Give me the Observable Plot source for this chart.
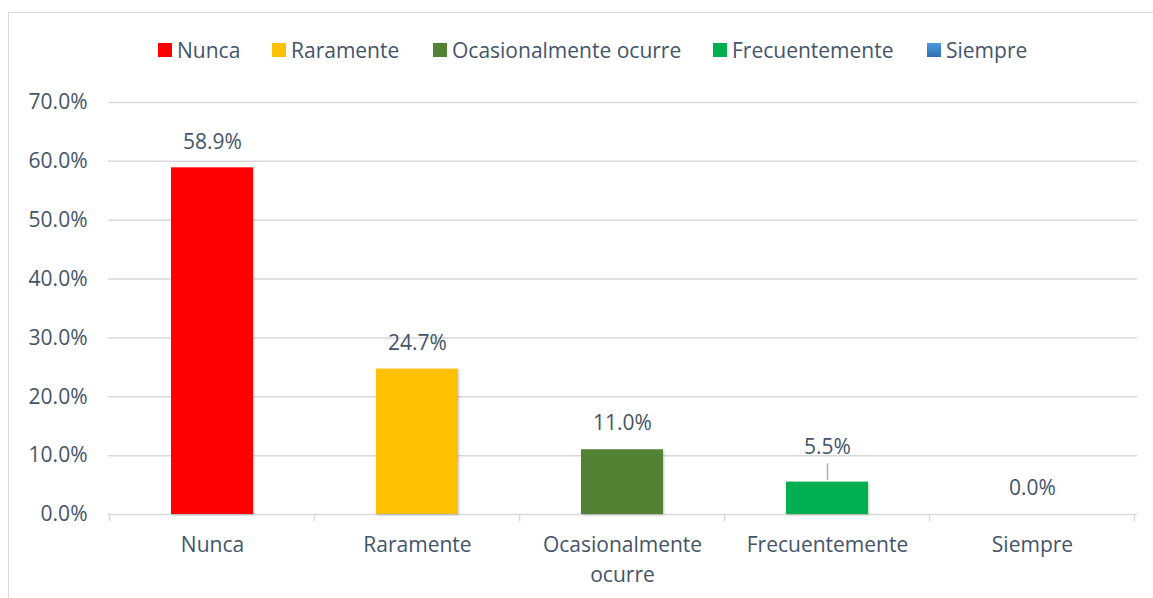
<!DOCTYPE html>
<html><head><meta charset="utf-8">
<script src="https://cdn.jsdelivr.net/npm/d3@7"></script>
<script src="https://cdn.jsdelivr.net/npm/@observablehq/plot@0.6"></script>
<style>
body{margin:0;background:#fff;}
#wrap{position:relative;width:1153px;height:598px;overflow:hidden;font-family:"Open Sans",sans-serif;color:#44546a;background:#fff}
#frame{position:absolute;left:8px;top:12px;width:1200px;height:700px;border:1px solid #d9d9d9;box-sizing:border-box}
#chart{position:absolute;left:0;top:0}
.leg{position:absolute;top:40px;display:flex;align-items:center;font-size:21px;white-space:nowrap;height:20px;line-height:20px}
.sw{width:14px;height:14px;margin-right:5px;flex:none}
g[aria-label="bar"] rect{filter:drop-shadow(1px 1px 1.2px rgba(0,0,0,0.22))}
</style></head>
<body><div id="wrap"><div id="frame"></div><div id="chart"></div></div>
<script>
const categories = ["Nunca", "Raramente", "Ocasionalmente ocurre", "Frecuentemente", "Siempre"];
const values = [58.9, 24.7, 11.0, 5.5, 0.0];
const colors = ["#ff0000", "#ffc000", "#548235", "#00b050", "#3d85cf"];
const axisLabels = ["Nunca", "Raramente", "Ocasionalmente\nocurre", "Frecuentemente", "Siempre"];
const yTicks = [0, 10, 20, 30, 40, 50, 60, 70];

const textColor = "#44546a";
const gridColor = "#d9d9d9";
const data = categories.map((c, i) => ({cat: c, value: values[i], label: axisLabels[i]}));

// legend
const legendLeft = [158, 272, 433, 713, 927];
const wrap = document.getElementById("wrap");
categories.forEach((c, i) => {
  const d = document.createElement("div");
  d.className = "leg";
  d.style.left = legendLeft[i] + "px";
  const sw = document.createElement("div");
  sw.className = "sw";
  sw.style.background = i === 4 ? "linear-gradient(#4b9be0,#2f6fb0)" : colors[i];
  const t = document.createElement("span");
  t.textContent = c;
  d.append(sw, t);
  wrap.appendChild(d);
});

const boundaryTicks = (index, scales, vals, dims) => {
  const x = scales.x;
  const bw = typeof x.bandwidth === "function" ? x.bandwidth() : (x.bandwidth ?? 0);
  const step = x(categories[1]) - x(categories[0]);
  const y0 = dims.height - dims.marginBottom;
  const xs = categories.map(c => x(c) + bw / 2 - step / 2);
  xs.push(x(categories[categories.length - 1]) + bw / 2 + step / 2);
  const g = d3.create("svg:g");
  for (const xv of xs) {
    g.append("line").attr("x1", xv).attr("x2", xv).attr("y1", y0).attr("y2", y0 + 7)
      .attr("stroke", gridColor).attr("stroke-width", 1.5);
  }
  return g.node();
};

const lifted = data.filter(d => d.cat === "Frecuentemente");
const normal = data.filter(d => d.cat !== "Frecuentemente");

const chart = Plot.plot({
  width: 1153,
  height: 598,
  marginLeft: 108,
  marginRight: 16,
  marginTop: 102,
  marginBottom: 84,
  style: {fontFamily: '"Open Sans", sans-serif', fontSize: "21px", color: textColor, background: "transparent"},
  x: {domain: categories, paddingInner: 0.6, paddingOuter: 0.3, axis: null},
  y: {domain: [0, 70], axis: null},
  color: {domain: categories, range: colors},
  marks: [
    Plot.gridY(yTicks, {stroke: gridColor, strokeOpacity: 1, strokeWidth: 1.5}),
    boundaryTicks,
    Plot.axisY(yTicks, {tickSize: 0, tickPadding: 21, tickFormat: d => d.toFixed(1) + "%", fill: textColor, fontSize: 21, label: null}),
    Plot.barY(data, {x: "cat", y: "value", fill: "cat"}),
    Plot.text(normal, {x: "cat", y: "value", text: d => d.value.toFixed(1) + "%", dy: -26, fill: textColor, fontSize: 21}),
    Plot.text(lifted, {x: "cat", y: "value", text: d => d.value.toFixed(1) + "%", dy: -35, fill: textColor, fontSize: 21}),
    Plot.ruleX(lifted, {x: "cat", y1: d => d.value + 0.3, y2: d => d.value + 3.1, stroke: "#a6b0bf", strokeWidth: 1.5}),
    Plot.text(data, {x: "cat", y: 0, text: "label", dy: 16, lineAnchor: "top", lineHeight: 1.43, fill: textColor, fontSize: 21})
  ]
});
document.getElementById("chart").appendChild(chart);
</script>
</body></html>
